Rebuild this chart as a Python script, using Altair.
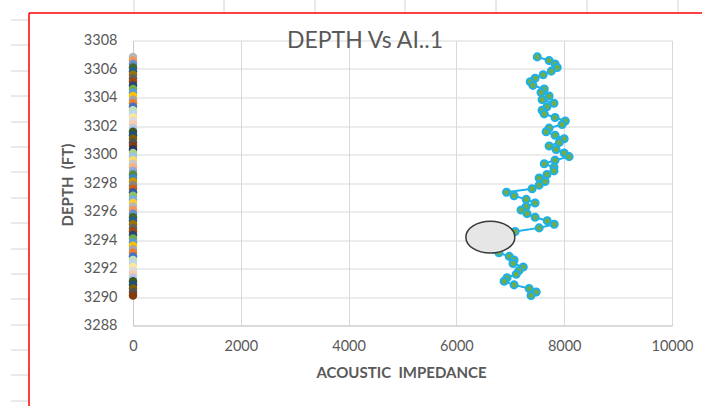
import altair as alt
import pandas as pd

# ---------------- data ----------------
depth = [3306.85, 3306.6, 3306.35, 3306.1, 3305.85, 3305.6, 3305.35, 3305.1,
         3304.85, 3304.6, 3304.35, 3304.1, 3303.85, 3303.6, 3303.35, 3303.1,
         3302.85, 3302.6, 3302.35, 3302.1, 3301.85, 3301.6, 3301.35, 3301.1,
         3300.85, 3300.6, 3300.35, 3300.1, 3299.85, 3299.6, 3299.35, 3299.1,
         3298.85, 3298.6, 3298.35, 3298.1, 3297.85, 3297.6, 3297.35, 3297.1,
         3296.85, 3296.6, 3296.35, 3296.1, 3295.85, 3295.6, 3295.35, 3295.1,
         3294.85, 3294.6, 3294.35, 3294.1, 3293.85, 3293.6, 3293.35, 3293.1,
         3292.85, 3292.6, 3292.35, 3292.1, 3291.85, 3291.6, 3291.35, 3291.1,
         3290.85, 3290.6, 3290.35, 3290.1]
ai = [7500, 7720, 7830, 7870, 7760, 7610, 7460, 7370,
      7420, 7630, 7570, 7720, 7590, 7810, 7680, 7590,
      7630, 7830, 8020, 7960, 7720, 7665, 7830, 8000,
      7910, 7720, 7850, 8000, 8090, 7830, 7630, 7810,
      7810, 7680, 7535, 7645, 7535, 7405, 6930, 7070,
      7295, 7460, 7295, 7200, 7310, 7460, 7685, 7815,
      7535, 7090, 6900, 6750, 6650, 6650, 6700, 6790,
      6980, 7070, 7050, 7240, 7160, 7110, 6940, 6885,
      7070, 7350, 7480, 7385]
x_ticks = [0, 2000, 4000, 6000, 8000, 10000]
y_ticks = [3288, 3290, 3292, 3294, 3296, 3298, 3300, 3302, 3304, 3306, 3308]
ellipse_ai = [6630]
ellipse_depth = [3294.2]
chart_title = "DEPTH Vs AI..1"
x_title = "ACOUSTIC\u00a0\u00a0IMPEDANCE"
y_title = "DEPTH\u00a0\u00a0(FT)"

# Excel-like series palette for the per-depth dots at AI = 0
palette = ["#4472C4", "#ED7D31", "#A5A5A5", "#FFC000", "#5B9BD5", "#70AD47",
           "#264478", "#9E480E", "#636363", "#997300", "#255E91", "#43682B",
           "#698ED0", "#F1975A", "#B7B7B7", "#FFCD33", "#7CAFDD", "#8CC168",
           "#335AA1", "#D26012", "#848484", "#CC9A00", "#3C86C6", "#5A8A39",
           "#8FAADC", "#F4B183", "#C9C9C9", "#FFD966", "#9DC3E6", "#A9D18E",
           "#203864", "#843C0C", "#525252", "#7F6000", "#1F4E79", "#385723",
           "#B4C7E7", "#F8CBAD", "#DBDBDB", "#FFE699", "#BDD7EE", "#C5E0B4"]

# ---------------- layout / style ----------------
FONT = "Lato"
TXT = "#595959"
CYAN = "#1DB0EA"
LEFT, TOP = 133, 40.5
W, H = 539, 285
RIGHT = 702 - LEFT - W
BOTTOM = 406 - TOP - H
RED_Y = 13
RED_X = 29
sheet_cols = [134, 224, 315, 405, 496, 587, 678]
sheet_rows = [20, 45, 71, 96, 122, 147, 172, 198, 223, 249, 274, 299, 325, 350, 375, 401]

n = len(depth)
df = pd.DataFrame({"depth": depth, "ai": ai})
df["zero"] = [0] * n
df["color"] = [palette[(31 + (n - 1 - i)) % len(palette)] for i in range(n)]
df_ell = pd.DataFrame({"ai": ellipse_ai, "depth": ellipse_depth})
one = pd.DataFrame({"k": [0]})

xscale = alt.Scale(domain=[0, 10000], nice=False, zero=False)
yscale = alt.Scale(domain=[3288, 3308], nice=False, zero=False)

x_axis = alt.Axis(values=x_ticks, title=x_title, grid=True, gridColor="#D9D9D9",
                  domainColor="#C8C8C8", ticks=False, labelPadding=14,
                  labelFont=FONT, labelFontSize=14.5, labelColor=TXT,
                  titleFont=FONT, titleFontSize=15, titleFontWeight="bold",
                  titleColor=TXT, titleX=268, titleY=47, titleBaseline="middle",
                  labelFlush=False, format="d")
y_axis = alt.Axis(values=y_ticks, title=y_title, grid=True, gridColor="#D9D9D9",
                  domainColor="#C8C8C8", ticks=False, labelPadding=16,
                  labelFont=FONT, labelFontSize=14.5, labelColor=TXT,
                  titleFont=FONT, titleFontSize=15, titleFontWeight="bold",
                  titleColor=TXT, titleX=-66, titleY=144, titleAngle=-90,
                  titleBaseline="middle", titleAlign="center", labelFlush=False,
                  format="d")

X = alt.X("ai:Q", scale=xscale, axis=x_axis)
Y = alt.Y("depth:Q", scale=yscale, axis=y_axis)
X0 = alt.X("zero:Q", scale=xscale, axis=x_axis)

layers = []

# spreadsheet background lines
for cx in sheet_cols:
    layers.append(alt.Chart(one).mark_rule(color="#D4D4D4", strokeWidth=1).encode(
        x=alt.value(cx - LEFT), y=alt.value(-TOP), y2=alt.value(RED_Y - TOP)))
for ry in sheet_rows:
    layers.append(alt.Chart(one).mark_rule(color="#D4D4D4", strokeWidth=1).encode(
        x=alt.value(11 - LEFT), x2=alt.value(RED_X - LEFT), y=alt.value(ry - TOP)))
# red chart border
layers.append(alt.Chart(one).mark_rule(color="#FF0000", strokeWidth=1.5).encode(
    x=alt.value(RED_X - LEFT), x2=alt.value(702 - LEFT + 5), y=alt.value(RED_Y - TOP)))
layers.append(alt.Chart(one).mark_rule(color="#FF0000", strokeWidth=1.5).encode(
    x=alt.value(RED_X - LEFT), y=alt.value(RED_Y - TOP), y2=alt.value(406 - TOP + 5)))

# per-depth dots at AI = 0
dots0 = alt.Chart(df).mark_point(filled=True, shape="circle", size=72, opacity=1).encode(
    x=X0, y=Y, color=alt.Color("color:N", scale=None))

line = alt.Chart(df).mark_line(color=CYAN, strokeWidth=2).encode(
    x=X, y=Y, order=alt.Order("depth:Q"))
pts = alt.Chart(df).mark_point(filled=True, shape="circle", size=50, opacity=1,
                               fill="#70AD47", stroke=CYAN, strokeWidth=2).encode(
    x=X, y=Y)

ell_path = "M -1 0 A 1 0.65 0 1 0 1 0 A 1 0.65 0 1 0 -1 0 Z"
ellipse = alt.Chart(df_ell).mark_point(shape=ell_path, size=2401, filled=True,
                                       fill="#E6E6E6", stroke="#3A3A3A",
                                       strokeWidth=1.5, opacity=1).encode(x=X, y=Y)

title = alt.Chart(one).mark_text(font=FONT, fontSize=23, fontWeight=400, color=TXT,
                                 align="center", baseline="middle").encode(
    x=alt.value(232), y=alt.value(0), text=alt.value(chart_title))

chart = alt.layer(*layers, dots0, line, pts, ellipse, title).properties(
    width=W, height=H,
    autosize=alt.AutoSizeParams(type="none"),
    padding={"left": LEFT, "top": TOP, "right": RIGHT, "bottom": BOTTOM},
    background="white",
).configure_view(stroke=None)

chart.save("out.html", embed_options={"renderer": "svg", "actions": False})
